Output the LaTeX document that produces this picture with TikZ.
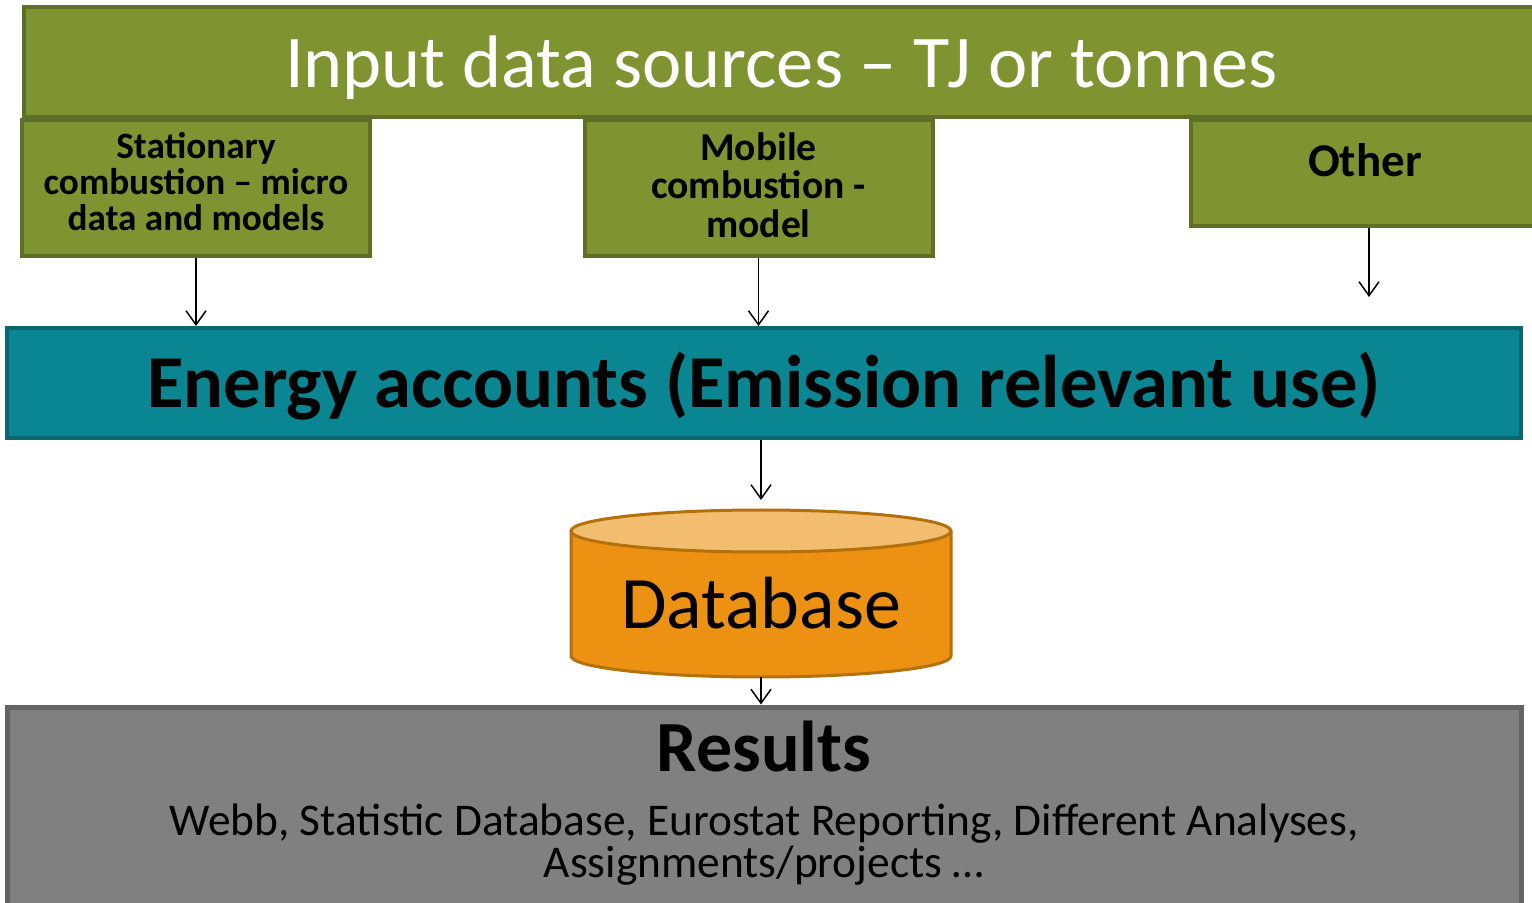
\documentclass[tikz,border=0pt]{standalone}
\usepackage{fontspec}
\setmainfont{Carlito}
\usepackage{tikz}
\usetikzlibrary{arrows.meta, positioning, shapes.geometric, calc}
\definecolor{sourceGreen}{HTML}{7F9430}
\definecolor{sourceBorder}{HTML}{5F6F25}
\definecolor{energyTeal}{HTML}{0A8692}
\definecolor{energyBorder}{HTML}{0A6670}
\definecolor{dbOrange}{HTML}{EC9112}
\definecolor{dbTop}{HTML}{F2BD6F}
\definecolor{dbBorder}{HTML}{B4700B}
\definecolor{resultGray}{HTML}{808080}
\definecolor{resultBorder}{HTML}{646464}

\begin{document}
\begin{tikzpicture}[
    x=0.5pt, y=-0.5pt,
    % ── shared styles ───────────────────────────────────────────────
    source bar/.style={
        rectangle, fill=sourceGreen, draw=sourceBorder, line width=2pt,
        text=white, font=\fontsize{37.2}{44}\selectfont, text depth=0pt,
        minimum width=757.5pt, minimum height=55pt,
    },
    source box/.style={
        rectangle, fill=sourceGreen, draw=sourceBorder, line width=2pt,
        text=black, font=\bfseries\fontsize{18.6}{18}\selectfont,
        minimum width=174pt, minimum height=68pt,
        inner sep=0pt, align=center,
    },
    energy bar/.style={
        rectangle, fill=energyTeal, draw=energyBorder, line width=2pt,
        text=black, font=\bfseries\fontsize{37.3}{44}\selectfont, text depth=3pt,
        minimum width=757pt, minimum height=55pt,
    },
    db node/.style={
        rectangle, inner sep=0pt, outer sep=0pt,
        minimum width=190pt, minimum height=83.5pt,
    },
    db wall/.style={
        fill=dbOrange, draw=dbBorder, line width=1.5pt,
    },
    db lid/.style={
        fill=dbTop, draw=dbBorder, line width=1.5pt,
    },
    result box/.style={
        rectangle, fill=resultGray, draw=resultBorder, line width=2.5pt,
        minimum width=757pt, minimum height=109pt,
    },
    flow/.style={
        -{Straight Barb[length=7pt,width=10pt]},
        black, line width=0.75pt,
    },
]
\useasboundingbox (0,0) rectangle (1532,903);
\clip (0,0) rectangle (1532,903);

% =============================================================
%  INPUT SOURCES
% =============================================================
\node[source bar] (input) at (781.5,62) {Input data sources -- TJ or tonnes};

\node[source box, text depth=7pt] (stat) at (196,188)
    {Stationary\\combustion -- micro\\data and models};
\node[source box, text depth=3pt, font=\bfseries\fontsize{19.8}{19.3}\selectfont] (mobile) at (758.5,188)
    {Mobile\\combustion -\\model};
\node[source box, minimum height=53pt] (other) at (1365,173) {};
\node[font=\bfseries\fontsize{23.5}{28}\selectfont] (otherLabel) at (1365,160) {Other};

% =============================================================
%  ENERGY ACCOUNTS AND DATABASE
% =============================================================
\node[energy bar] (energy) at (764,383) {Energy accounts (Emission relevant use)};

\node[db node] (db) at (761,593.5) {};
\draw[db wall] ([yshift=-10.5pt]db.north west) -- ([yshift=10.5pt]db.south west)
    arc[start angle=180, end angle=360, x radius=95pt, y radius=10.5pt]
    -- ([yshift=-10.5pt]db.north east);
\draw[db lid] ([yshift=-10.5pt]db.north) ellipse [x radius=95pt, y radius=10.5pt];
\node[font=\fontsize{37}{40}\selectfont] (dbLabel) at (761,603) {Database};

% =============================================================
%  RESULTS
% =============================================================
\node[result box] (results) at (764,816) {};
\node[font=\bfseries\fontsize{36}{40}\selectfont] (resTitle) at (764,747) {Results};
\node[font=\fontsize{22.7}{21}\selectfont, align=center] (resText) at (764,845)
    {Webb, Statistic Database, Eurostat Reporting, Different Analyses,\\Assignments/projects \dots};

% Connection lines
\coordinate (otherEnd) at (1369,297);
\draw[flow] (stat.south) -- (stat.south |- energy.north);
\draw[flow] (mobile.south) -- (mobile.south |- energy.north);
\draw[flow] (other.south -| otherEnd) -- (otherEnd);
\draw[flow, shorten >=5pt] (db.north |- energy.south) -- (db.north);
\draw[flow] (db.south) -- (db.south |- results.north);

\end{tikzpicture}
\end{document}
